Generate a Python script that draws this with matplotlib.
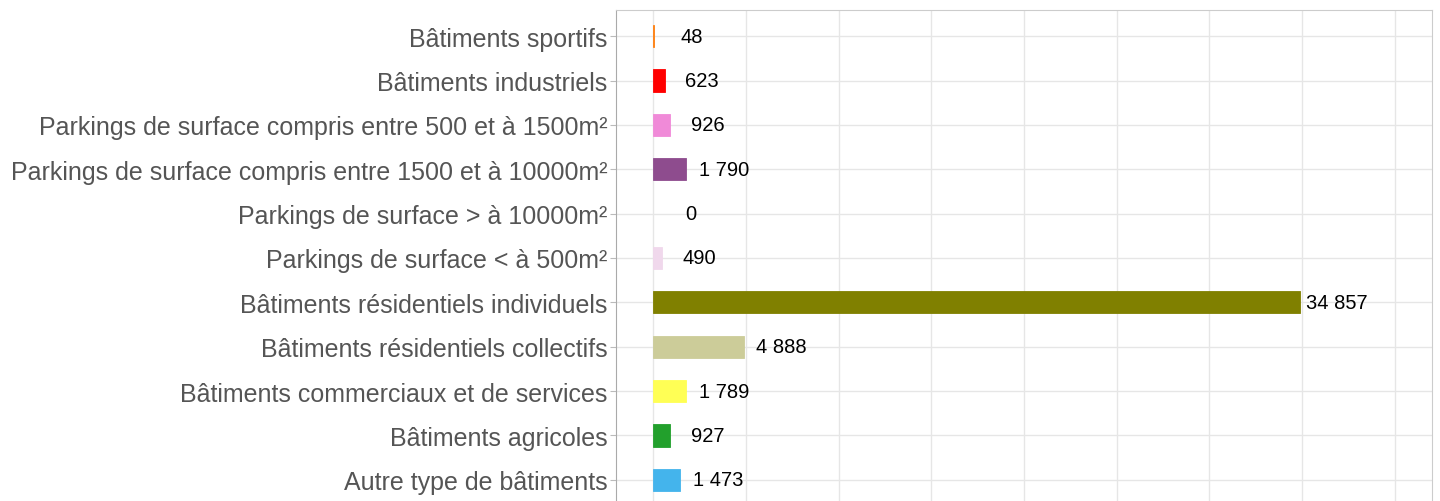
import matplotlib.pyplot as plt
import numpy as np

plt.rcParams["font.family"] = ["Liberation Sans", "DejaVu Sans"]

categories = [
    "Bâtiments sportifs",
    "Bâtiments industriels",
    "Parkings de surface compris entre 500 et à 1500m²",
    "Parkings de surface compris entre 1500 et à 10000m²",
    "Parkings de surface > à 10000m²",
    "Parkings de surface < à 500m²",
    "Bâtiments résidentiels individuels",
    "Bâtiments résidentiels collectifs",
    "Bâtiments commerciaux et de services",
    "Bâtiments agricoles",
    "Autre type de bâtiments",
]
values = [48, 623, 926, 1790, 0, 490, 34857, 4888, 1789, 927, 1473]
colors = ['#ff7f0e', '#ff0000', '#f08ad8', '#8e4c8e', 'none', '#f0d8ec',
          '#808000', '#cccc99', '#ffff55', '#22a02c', '#44b4ec']


def fmt(v):
    return "{:,}".format(v).replace(",", " ")


fig = plt.figure(figsize=(14.4, 5.02), dpi=100)
# axes runs a bit past the bottom edge of the figure
ax = fig.add_axes([616 / 1440, -5 / 502, (1432 - 616) / 1440, (491 + 5) / 502])

y = np.arange(len(categories))
ax.barh(y, values, height=0.5, color=colors, edgecolor=colors, linewidth=0.6, zorder=2)

for yi, v in zip(y, values):
    ax.annotate(fmt(v), xy=(v, yi), xytext=(27, 0), textcoords='offset points',
                ha='center', va='center', fontsize=14.5, color='black', zorder=3)

ax.set_xlim(-2000, 42000)
ax.set_ylim(len(categories) - 0.5 + 0.09, -0.59)
ax.set_xticks(np.arange(0, 40001, 5000))
ax.set_xticklabels([])
ax.set_yticks(y)
ax.set_yticklabels(categories, fontsize=18, color='#555555')
ax.tick_params(axis='y', length=4, color='#bbbbbb', pad=2)
ax.tick_params(axis='x', length=0)
ax.grid(True, color='#e6e6e6', linewidth=1, zorder=0)
for s in ['top', 'right', 'left', 'bottom']:
    ax.spines[s].set_color('#cccccc')
ax.spines['left'].set_color('#aaaaaa')

fig.savefig("out.png", dpi=100)
